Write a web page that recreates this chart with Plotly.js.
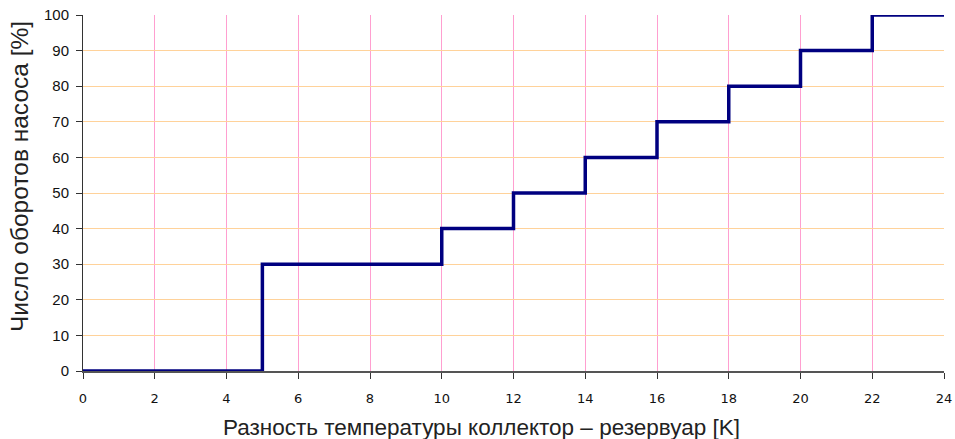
<!DOCTYPE html>
<html><head><meta charset="utf-8">
<script src="https://cdn.plot.ly/plotly-3.0.1.min.js"></script>
<style>html,body{margin:0;padding:0;background:#fff}#c{width:955px;height:439px}</style>
</head><body><div id="c"></div>
<script>
const deltaT = [0, 5, 10, 12, 14, 16, 18, 20, 22, 24];
const pumpSpeed = [0, 30, 40, 50, 60, 70, 80, 90, 100, 100];
const xTicks = [0,2,4,6,8,10,12,14,16,18,20,22,24];
const yTicks = [0,10,20,30,40,50,60,70,80,90,100];
const xTitle = 'Разность температуры коллектор – резервуар [K]';
const yTitle = 'Число оборотов насоса [%]';

Plotly.newPlot('c', [{
  x: deltaT, y: pumpSpeed, type: 'scatter', mode: 'lines',
  line: {shape: 'hv', color: '#000080', width: 3.5},
  cliponaxis: false
}], {
  width: 955, height: 439,
  margin: {l: 83, r: 11, t: 15, b: 68},
  paper_bgcolor: '#fff', plot_bgcolor: '#fff',
  showlegend: false,
  xaxis: {
    range: [0, 24], tickvals: xTicks, ticktext: xTicks.map(String),
    showgrid: true, gridcolor: '#ff9fd0', gridwidth: 1,
    showline: true, linecolor: '#555', linewidth: 1.5,
    ticks: 'outside', ticklen: 6, tickcolor: '#333',
    ticklabelstandoff: 9,
    zeroline: false,
    tickfont: {family: 'DejaVu Sans', size: 13, color: '#111'}
  },
  yaxis: {
    range: [0, 100], tickvals: yTicks,
    showgrid: true, gridcolor: '#ffd29a', gridwidth: 1,
    showline: true, linecolor: '#333', linewidth: 1,
    ticks: 'outside', ticklen: 6, tickcolor: '#333',
    ticklabelstandoff: 4,
    zeroline: false,
    tickfont: {family: 'Liberation Sans', size: 15, color: '#111'}
  },
  annotations: [
    {text: xTitle, xref: 'paper', yref: 'paper', x: 0.4634, y: -0.160,
     xanchor: 'center', yanchor: 'middle', showarrow: false,
     font: {family: 'Liberation Sans', size: 22.5, color: '#222'}},
    {text: yTitle, xref: 'paper', yref: 'paper', x: -0.0732, y: 0.5478,
     xanchor: 'center', yanchor: 'middle', showarrow: false, textangle: -90,
     font: {family: 'Liberation Sans', size: 24.5, color: '#222'}}
  ]
}, {displayModeBar: false, staticPlot: true});
</script></body></html>
